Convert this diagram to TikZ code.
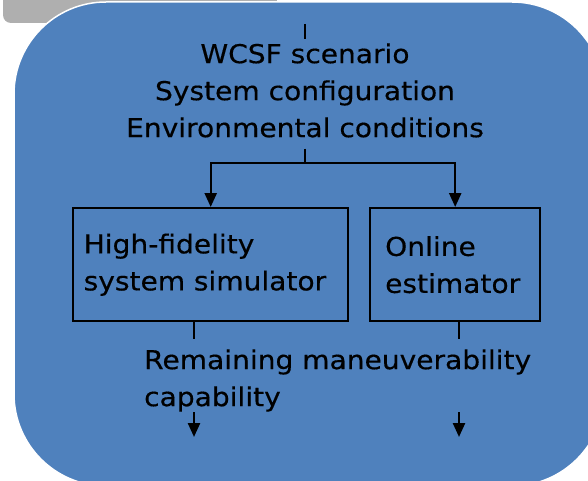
\documentclass[tikz,border=0pt]{standalone}
\usepackage{fontspec}
\setmainfont{DejaVu Sans}[FakeStretch=1.08,FakeBold=0.4]
\usetikzlibrary{arrows.meta}
\definecolor{panelblue}{HTML}{4F81BD}
\definecolor{tabgrey}{HTML}{AFAFAF}
\begin{document}
\begin{tikzpicture}[x=1pt,y=-1pt,line width=2.4pt,
  lbl/.style={font=\fontsize{26}{37}\selectfont, inner sep=0pt},
  blk/.style={draw=black, line width=2.4pt, font=\fontsize{26}{37}\selectfont,
    align=left, minimum height=113pt, inner ysep=0pt, anchor=north west},
  arr/.style={-{Triangle[length=14pt,width=12pt]}}]
\useasboundingbox (0,0) rectangle (588,481);
% tab strip along the top edge
\fill[tabgrey, rounded corners=8pt] (3,-12) rectangle (121,23);
\draw[tabgrey, fill=white, line width=1pt] (121,-10) rectangle (276,1);
% main panel
\filldraw[fill=panelblue, draw=white, line width=1.5pt, rounded corners=92pt]
  (14,2) rectangle (604,486);

% inputs
\node[lbl, align=center, anchor=north] (title) at (305,42.2)
  {WCSF scenario\\System configuration\\Environmental conditions};
\coordinate (in) at (305,24);
\draw (in) -- ([yshift=3pt]title.north);
\coordinate (split) at (305,163);
\draw ([yshift=-10pt]title.south) -- (split);

% blocks
\node[blk, text width=254pt, inner xsep=10.5pt] (hifi) at (72,207)
  {High-fidelity\\system simulator};
\node[blk, text width=140pt, inner xsep=15pt] (est) at (369,207)
  {Online\\estimator};
\draw[arr] (split) -| (hifi.north);
\draw[arr] (split) -| (est.north);

% outputs
\coordinate (o1) at (194,339);
\coordinate (o2) at (459,339);
\draw (hifi.south -| o1) -- (o1);
\draw (est.south -| o2) -- (o2);
\node[lbl, align=left, anchor=north west] (result) at (143,348.2)
  {Remaining maneuverability\\capability};
\coordinate (d1) at (194,412);
\coordinate (d2) at (459,412);
\draw[arr] (d1) -- ++(0,25);
\draw[arr] (d2) -- ++(0,25);
\end{tikzpicture}
\end{document}
